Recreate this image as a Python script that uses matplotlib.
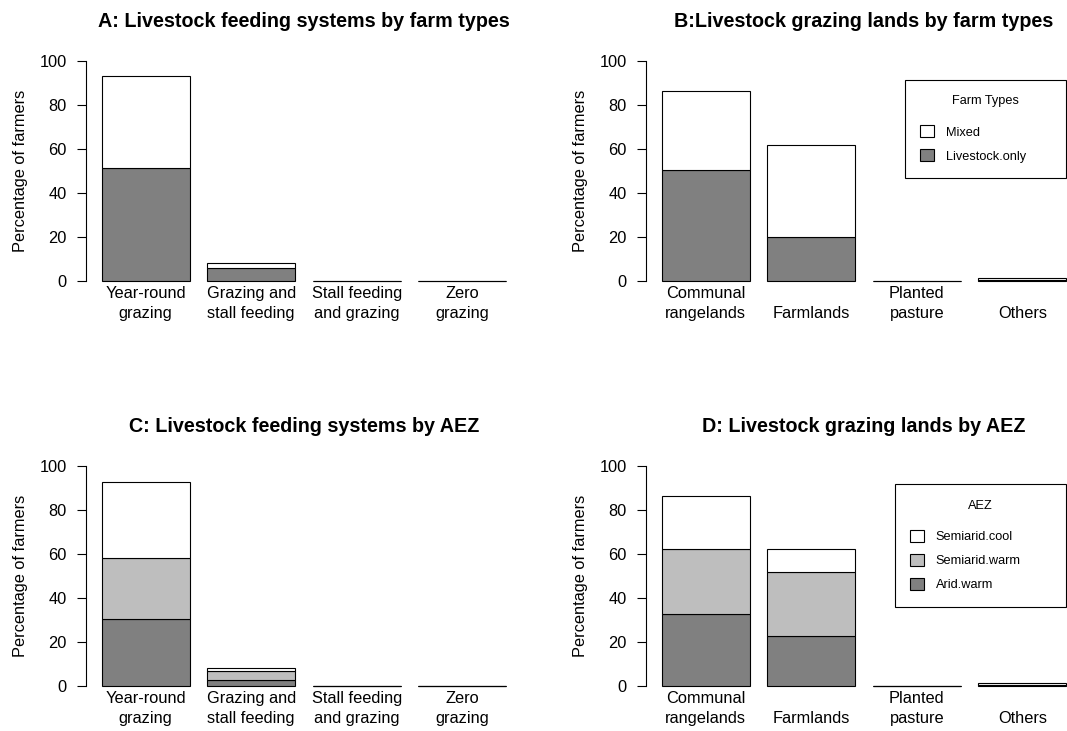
import matplotlib as mpl
mpl.use('Agg')
mpl.rcParams['font.family'] = ['Liberation Sans', 'DejaVu Sans']
mpl.rcParams['axes.linewidth'] = 0.8
import matplotlib.pyplot as plt
import numpy as np

# Categories
feeding_systems = ['Year-round\ngrazing', 'Grazing and\nstall feeding',
                   'Stall feeding\nand grazing', 'Zero\ngrazing']
grazing_lands = ['Communal\nrangelands', 'Farmlands', 'Planted\npasture', 'Others']

# Percentage of farmers, stacked bottom to top
feed_livestock_only = [51.3, 5.8, 0.0, 0.0]
feed_mixed = [41.7, 2.5, 0.0, 0.0]
land_livestock_only = [50.5, 20.1, 0.0, 0.4]
land_mixed = [35.9, 41.7, 0.0, 0.9]

feed_arid_warm = [30.3, 2.6, 0.0, 0.0]
feed_semiarid_warm = [28.1, 4.4, 0.0, 0.0]
feed_semiarid_cool = [34.5, 1.3, 0.0, 0.0]
land_arid_warm = [32.7, 22.7, 0.0, 0.3]
land_semiarid_warm = [29.6, 29.1, 0.0, 0.0]
land_semiarid_cool = [24.1, 10.3, 0.0, 1.0]

farm_labels = ['Livestock.only', 'Mixed']
farm_colors = ['#808080', 'white']
aez_labels = ['Arid.warm', 'Semiarid.warm', 'Semiarid.cool']
aez_colors = ['#808080', '#bebebe', 'white']

BASE = 11.8


def stacked_bars(ax, names, series, colors, labels, title, legend_title=None, legend_box=None):
    x = 0.7 + 1.2 * np.arange(len(names))
    bottom = np.zeros(len(names))
    handles = []
    for vals, col, lab in zip(series, colors, labels):
        vals = np.asarray(vals)
        h = ax.bar(x, vals, width=1.0, bottom=bottom, color=col,
                   edgecolor='black', linewidth=0.8, label=lab)
        handles.append(h)
        bottom = bottom + vals

    ax.set_xlim(0.016, 4.984)
    ax.set_ylim(-4, 104)
    for side in ['top', 'right', 'bottom']:
        ax.spines[side].set_visible(False)
    ax.spines['left'].set_bounds(0, 100)
    ax.set_yticks(np.arange(0, 101, 20))
    ax.tick_params(axis='y', direction='out', length=6.5, width=0.8,
                   pad=7, labelsize=BASE)
    ax.set_xticks([])
    # bar names sit on a common last line, as in R's barplot
    for xi, name in zip(x, names):
        ax.text(xi, -16.7, name, ha='center', va='baseline', fontsize=BASE,
                linespacing=1.4)
    ax.set_ylabel('Percentage of farmers', fontsize=BASE, labelpad=8)
    ax.set_title(title, fontsize=14.2, fontweight='bold', pad=18)

    if legend_title is not None:
        x0, x1, ytop = legend_box
        leg = ax.legend(handles[::-1], labels[::-1], title=legend_title,
                        loc='upper left', bbox_to_anchor=(x0, ytop - 10, x1 - x0, 10),
                        bbox_transform=ax.transData, mode='expand',
                        fontsize=9.2, title_fontsize=9.2, fancybox=False,
                        framealpha=1, edgecolor='black', borderpad=1.2,
                        labelspacing=0.85, handlelength=1.05, handleheight=1.05,
                        handletextpad=0.95, borderaxespad=0)
        leg.get_frame().set_linewidth(0.8)
        leg._legend_box.sep = 13


fig = plt.figure(figsize=(10.67, 7.31), dpi=100)
W, H = 1067.0, 731.0
ax_w, ax_h = 437 / W, 237.6 / H
axA = fig.add_axes([85.5 / W, 441.2 / H, ax_w, ax_h])
axB = fig.add_axes([645.5 / W, 441.2 / H, ax_w, ax_h])
axC = fig.add_axes([85.5 / W, 36.2 / H, ax_w, ax_h])
axD = fig.add_axes([645.5 / W, 36.2 / H, ax_w, ax_h])

stacked_bars(axA, feeding_systems, [feed_livestock_only, feed_mixed],
             farm_colors, farm_labels, 'A: Livestock feeding systems by farm types')
stacked_bars(axB, grazing_lands, [land_livestock_only, land_mixed],
             farm_colors, farm_labels, 'B:Livestock grazing lands by farm types',
             legend_title='Farm Types', legend_box=(2.965, 4.8, 91.4))
stacked_bars(axC, feeding_systems, [feed_arid_warm, feed_semiarid_warm, feed_semiarid_cool],
             aez_colors, aez_labels, 'C: Livestock feeding systems by AEZ')
stacked_bars(axD, grazing_lands, [land_arid_warm, land_semiarid_warm, land_semiarid_cool],
             aez_colors, aez_labels, 'D: Livestock grazing lands by AEZ',
             legend_title='AEZ', legend_box=(2.85, 4.8, 91.6))

fig.savefig('out.png', dpi=100, facecolor='white')
